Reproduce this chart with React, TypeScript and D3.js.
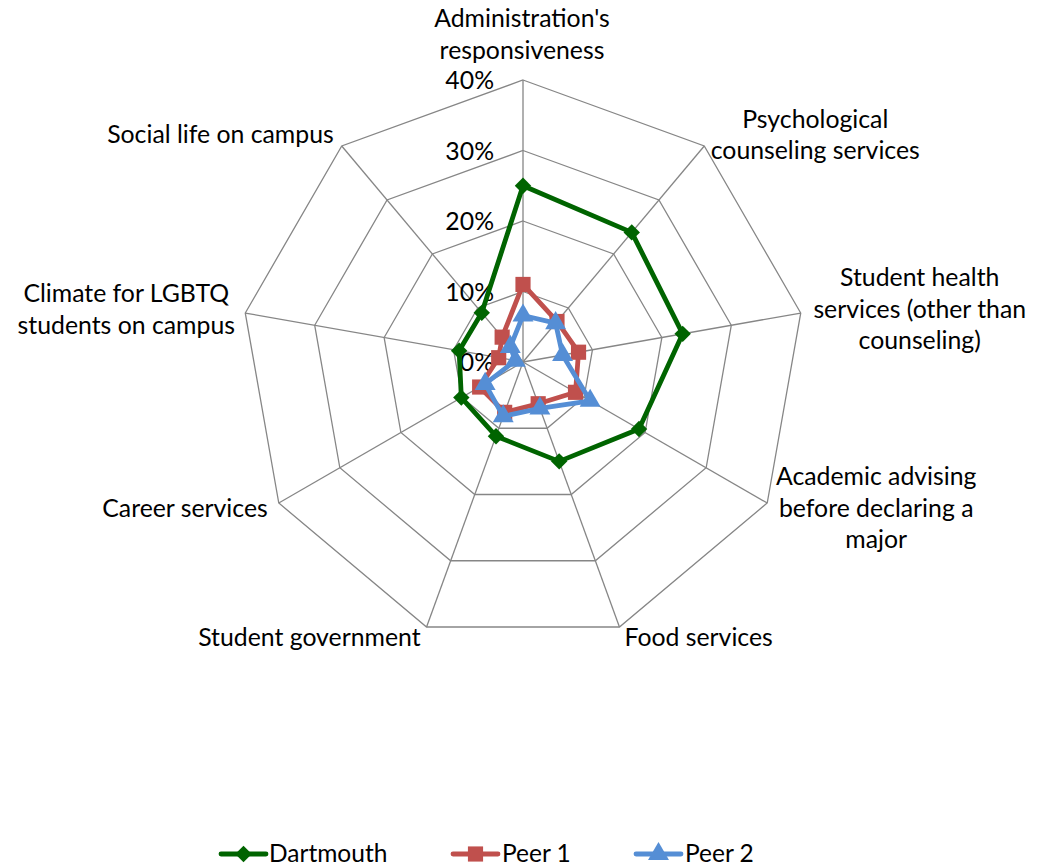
import React from "react";
import * as d3 from "d3";

const categories: string[][] = [
  ["Administration's", "responsiveness"],
  ["Psychological", "counseling services"],
  ["Student health", "services (other than", "counseling)"],
  ["Academic advising", "before declaring a", "major"],
  ["Food services"],
  ["Student government"],
  ["Career services"],
  ["Climate for LGBTQ", "students on campus"],
  ["Social life on campus"],
];

const dartmouth = [25, 24, 23, 19, 15, 11.2, 10.1, 9.2, 9.1];
const peer1 = [11, 7.5, 8, 8.6, 6.3, 7.6, 7.1, 3.5, 4.6];
const peer2 = [6.6, 7.2, 5.7, 11, 7, 8.2, 6.2, 1.1, 2.8];

const ticks = [0, 10, 20, 30, 40];
const seriesNames = ["Dartmouth", "Peer 1", "Peer 2"];

// layout (not data)
const W = 1040;
const H = 868;
const CX = 523;
const CY = 362;
const R = 282;
const FONT = "Lato, 'Open Sans', sans-serif";
const LABEL_SIZE = 24.8;
const colors = ["#006400", "#C0504D", "#558ED5"];

// label placement relative to the outer vertex
const labelLayout = [
  { dx: -1, dy: -53, anchor: "middle" },
  { dx: 111, dy: -18, anchor: "middle" },
  { dx: 119, dy: -27, anchor: "middle" },
  { dx: 109, dy: -18, anchor: "middle" },
  { dx: 5, dy: 19, anchor: "start" },
  { dx: -6, dy: 19, anchor: "end" },
  { dx: -11, dy: 14, anchor: "end" },
  { dx: -119, dy: -11, anchor: "middle" },
  { dx: -8, dy: -3, anchor: "end" },
];

export default function App() {
  const n = categories.length;
  const r = d3.scaleLinear().domain([0, 40]).range([0, R]);
  const angle = d3
    .scaleLinear()
    .domain([0, n])
    .range([0, 2 * Math.PI]);

  const pt = (i: number, v: number): [number, number] => {
    const a = angle(i);
    return [CX + r(v) * Math.sin(a), CY - r(v) * Math.cos(a)];
  };

  const radial = d3
    .lineRadial<number>()
    .angle((_, i) => angle(i))
    .radius((v) => r(v))
    .curve(d3.curveLinearClosed);

  const gridLevels = ticks.filter((t) => t > 0);
  const idx = d3.range(n);

  const seriesData = [dartmouth, peer1, peer2];

  const diamond = d3.symbol().type(d3.symbolSquare).size(135)();
  const square = d3.symbol().type(d3.symbolSquare).size(230)();
  const triangle = d3.symbol().type(d3.symbolTriangle).size(190)();
  const markerPaths = [diamond, square, triangle];
  const markerRot = [45, 0, 0];

  const legendItems = [
    { x: 221, textX: 269 },
    { x: 453, textX: 502 },
    { x: 636, textX: 685 },
  ];
  const legendY = 854;

  return (
    <svg
      width={W}
      height={H}
      style={{ position: "absolute", left: 0, top: 0, background: "#fff" }}
      fontFamily={FONT}
    >
      <rect width={W} height={H} fill="#fff" />
      {/* grid */}
      <g transform={`translate(${CX},${CY})`}>
        {gridLevels.map((t) => (
          <path
            key={t}
            d={radial(idx.map(() => t)) || ""}
            fill="none"
            stroke="#868686"
            strokeWidth={1.3}
          />
        ))}
      </g>
      {idx.map((i) => {
        const [x, y] = pt(i, 40);
        return (
          <line
            key={i}
            x1={CX}
            y1={CY}
            x2={x}
            y2={y}
            stroke="#868686"
            strokeWidth={1.3}
          />
        );
      })}
      {/* tick labels */}
      {ticks.map((t) => (
        <text
          key={t}
          x={494}
          y={CY - r(t) + 9}
          textAnchor="end"
          fontSize={LABEL_SIZE}
          fill="#000"
        >
          {t}%
        </text>
      ))}
      {/* category labels */}
      {categories.map((lines, i) => {
        const [vx, vy] = pt(i, 40);
        const L = labelLayout[i];
        return (
          <text
            key={i}
            x={vx + L.dx}
            y={vy + L.dy}
            textAnchor={L.anchor as any}
            fontSize={LABEL_SIZE}
            fill="#000"
          >
            {lines.map((s, k) => (
              <tspan key={k} x={vx + L.dx} dy={k === 0 ? 0 : 31.5}>
                {s}
              </tspan>
            ))}
          </text>
        );
      })}
      {/* series */}
      {seriesData.map((vals, s) => (
        <g key={s}>
          <path
            transform={`translate(${CX},${CY})`}
            d={radial(vals) || ""}
            fill="none"
            stroke={colors[s]}
            strokeWidth={4.8}
            strokeLinejoin="round"
          />
          {vals.map((v, i) => {
            const [x, y] = pt(i, v);
            return (
              <path
                key={i}
                d={markerPaths[s] || ""}
                transform={`translate(${x},${y}) rotate(${markerRot[s]})`}
                fill={colors[s]}
              />
            );
          })}
        </g>
      ))}
      {/* legend */}
      {legendItems.map((it, s) => (
        <g key={s}>
          <line
            x1={it.x}
            x2={it.x + 45}
            y1={legendY}
            y2={legendY}
            stroke={colors[s]}
            strokeWidth={4.8}
            strokeLinecap="round"
          />
          <path
            d={markerPaths[s] || ""}
            transform={`translate(${it.x + 22.5},${legendY}) rotate(${markerRot[s]})`}
            fill={colors[s]}
          />
          <text x={it.textX} y={862} fontSize={24.5} fill="#000">
            {seriesNames[s]}
          </text>
        </g>
      ))}
    </svg>
  );
}
